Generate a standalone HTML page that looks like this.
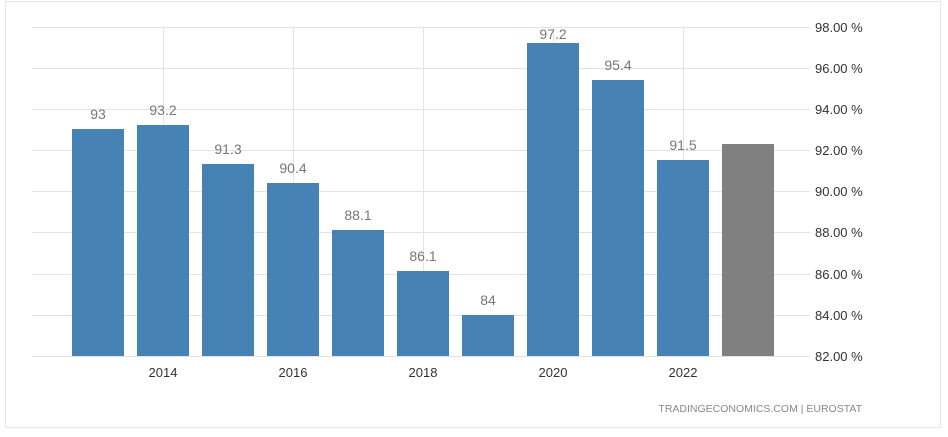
<!DOCTYPE html>
<html><head><style>
body{margin:0;background:#fff;}
svg text{font-family:"Liberation Sans",sans-serif;}
</style></head><body>
<svg width="948" height="432" xmlns="http://www.w3.org/2000/svg">
<rect x="5.5" y="1.5" width="935" height="426" fill="#fff" stroke="#e6e6e6"/>
<g stroke="#e3e3e3" stroke-width="1">
<line x1="32" x2="810" y1="27.5" y2="27.5"/>
<line x1="32" x2="810" y1="68.5" y2="68.5"/>
<line x1="32" x2="810" y1="109.5" y2="109.5"/>
<line x1="32" x2="810" y1="150.5" y2="150.5"/>
<line x1="32" x2="810" y1="191.5" y2="191.5"/>
<line x1="32" x2="810" y1="232.5" y2="232.5"/>
<line x1="32" x2="810" y1="274.5" y2="274.5"/>
<line x1="32" x2="810" y1="315.5" y2="315.5"/>
<line x1="32" x2="810" y1="356.5" y2="356.5"/>
<line x1="163.5" x2="163.5" y1="27" y2="356"/>
<line x1="293.5" x2="293.5" y1="27" y2="356"/>
<line x1="423.5" x2="423.5" y1="27" y2="356"/>
<line x1="553.5" x2="553.5" y1="27" y2="356"/>
<line x1="683.5" x2="683.5" y1="27" y2="356"/>
</g>
<g fill="#4682b4">
<rect x="72" y="129" width="52" height="227"/>
<rect x="137" y="125" width="52" height="231"/>
<rect x="202" y="164" width="52" height="192"/>
<rect x="267" y="183" width="52" height="173"/>
<rect x="332" y="230" width="52" height="126"/>
<rect x="397" y="271" width="52" height="85"/>
<rect x="462" y="315" width="52" height="41"/>
<rect x="527" y="43" width="52" height="313"/>
<rect x="592" y="80" width="52" height="276"/>
<rect x="657" y="160" width="52" height="196"/>
</g>
<rect x="722" y="144" width="52" height="212" fill="#808080"/>
<g fill="#777" font-size="14" text-anchor="middle">
<text x="98" y="119">93</text>
<text x="163" y="115">93.2</text>
<text x="228" y="154">91.3</text>
<text x="293" y="173">90.4</text>
<text x="358" y="220">88.1</text>
<text x="423" y="261">86.1</text>
<text x="488" y="305">84</text>
<text x="553" y="39">97.2</text>
<text x="618" y="70">95.4</text>
<text x="683" y="150">91.5</text>
</g>
<g fill="#333" font-size="13" text-anchor="middle">
<text x="163" y="377">2014</text>
<text x="293" y="377">2016</text>
<text x="423" y="377">2018</text>
<text x="553" y="377">2020</text>
<text x="683" y="377">2022</text>
</g>
<g fill="#333" font-size="13">
<text x="815" y="32">98.00 %</text>
<text x="815" y="73">96.00 %</text>
<text x="815" y="114">94.00 %</text>
<text x="815" y="155">92.00 %</text>
<text x="815" y="196">90.00 %</text>
<text x="815" y="237">88.00 %</text>
<text x="815" y="279">86.00 %</text>
<text x="815" y="320">84.00 %</text>
<text x="815" y="361">82.00 %</text>
</g>
<text x="862" y="412" fill="#888" font-size="10.5" text-anchor="end">TRADINGECONOMICS.COM  |  EUROSTAT</text>
</svg>
</body></html>
